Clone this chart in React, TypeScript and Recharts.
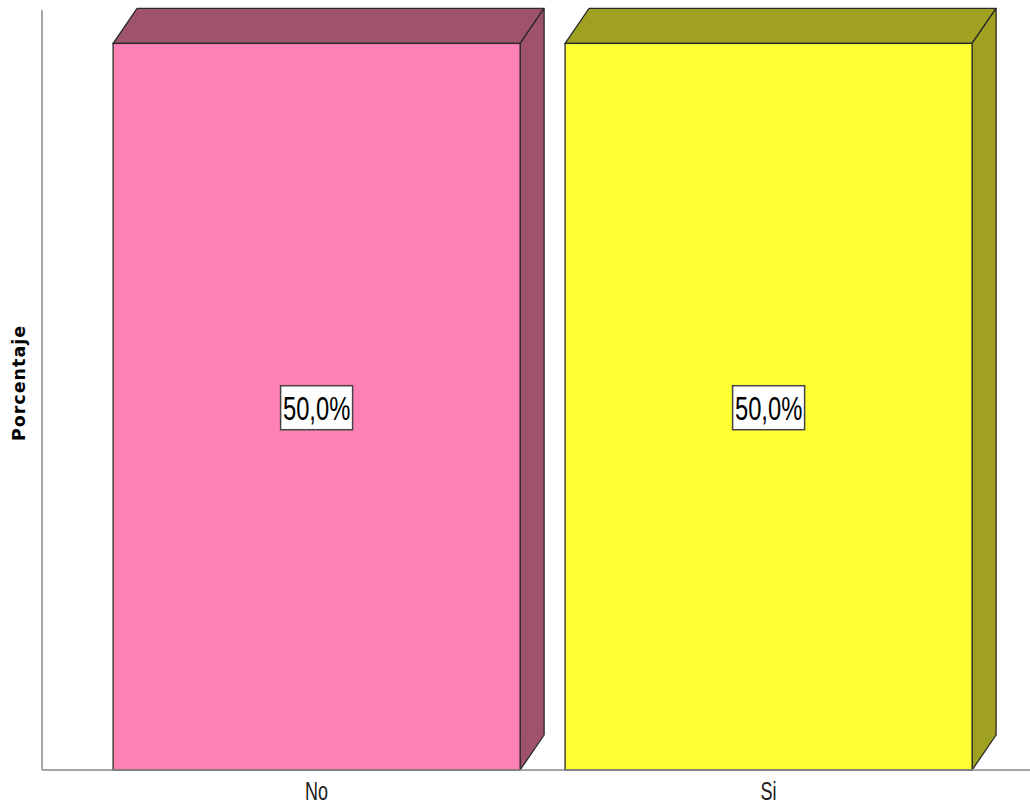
import React from 'react';
import { BarChart, Bar, XAxis, YAxis, Cell, LabelList } from 'recharts';

const categories = ['No', 'Si'];
const percentages = [50.0, 50.0];
const frontColors = ['#FF80B4', '#FFFF33'];
const shadeColors = ['#9E526E', '#A0A021'];

const data = categories.map((c, i) => ({ name: c, value: percentages[i] }));

const DX = 24;
const DY = 35;
const NARROW = "'Liberation Sans Narrow', 'Arial Narrow', Arial, sans-serif";

const Bar3D = (props: any) => {
  const { x, y, width, height, index } = props;
  const front = frontColors[index];
  const shade = shadeColors[index];
  const stroke = '#2a2a2a';
  const top = `${x},${y} ${x + DX},${y - DY} ${x + width + DX},${y - DY} ${x + width},${y}`;
  const side = `${x + width},${y} ${x + width + DX},${y - DY} ${x + width + DX},${y + height - DY} ${x + width},${y + height}`;
  return (
    <g>
      <polygon points={top} fill={shade} stroke={stroke} strokeWidth={1.3} strokeLinejoin="round" />
      <polygon points={side} fill={shade} stroke={stroke} strokeWidth={1.3} strokeLinejoin="round" />
      <rect x={x} y={y} width={width} height={height} fill={front} stroke={stroke} strokeWidth={1.3} />
    </g>
  );
};

const BoxLabel = (props: any) => {
  const { x, y, width, height, value } = props;
  const cx = x + width / 2;
  const cy = y + height / 2 + 1;
  const txt = `${Number(value).toFixed(1).replace('.', ',')}%`;
  return (
    <g>
      <rect x={cx - 36} y={cy - 22} width={72} height={44} fill="#ffffff" stroke="#444" strokeWidth={1.5} />
      <g transform={`translate(${cx} ${cy + 12}) scale(0.72 1)`}>
        <text x={0} y={0} textAnchor="middle" fontSize={33} fill="#000" fontFamily={NARROW}>{txt}</text>
      </g>
    </g>
  );
};

const XTick = (props: any) => {
  const { x, payload } = props;
  return (
    <g transform={`translate(${x} 800) scale(0.72 1)`}>
      <text x={0} y={0} textAnchor="middle" fontSize={25} fill="#222" fontFamily={NARROW}>{payload.value}</text>
    </g>
  );
};

export default function App() {
  return (
    <div style={{ position: 'absolute', left: 0, top: 0, width: 1030, height: 805, background: '#fff' }}>
      <BarChart width={1030} height={805} data={data} margin={{ top: 10, right: 0, bottom: 0, left: 0 }}
        barCategoryGap="5%">
        <XAxis dataKey="name" axisLine={{ stroke: '#8a8a8a', strokeWidth: 1.5 }} tickLine={false}
          padding={{ left: 48.5, right: 35.5 }} interval={0} tick={<XTick />} height={35} />
        <YAxis width={42} domain={[0, 52.3]} tick={false} tickLine={false}
          axisLine={{ stroke: '#8a8a8a', strokeWidth: 1.5 }} />
        <Bar dataKey="value" isAnimationActive={false} shape={<Bar3D />}>
          {data.map((d, i) => (
            <Cell key={d.name} fill={frontColors[i]} />
          ))}
          <LabelList dataKey="value" content={<BoxLabel />} />
        </Bar>
        <text x={25} y={383} transform="rotate(-90 25 383)" textAnchor="middle" fontSize={17.5} fontWeight="bold"
          letterSpacing={1} fill="#000" fontFamily="'DejaVu Sans', Verdana, sans-serif">Porcentaje</text>
      </BarChart>
    </div>
  );
}
